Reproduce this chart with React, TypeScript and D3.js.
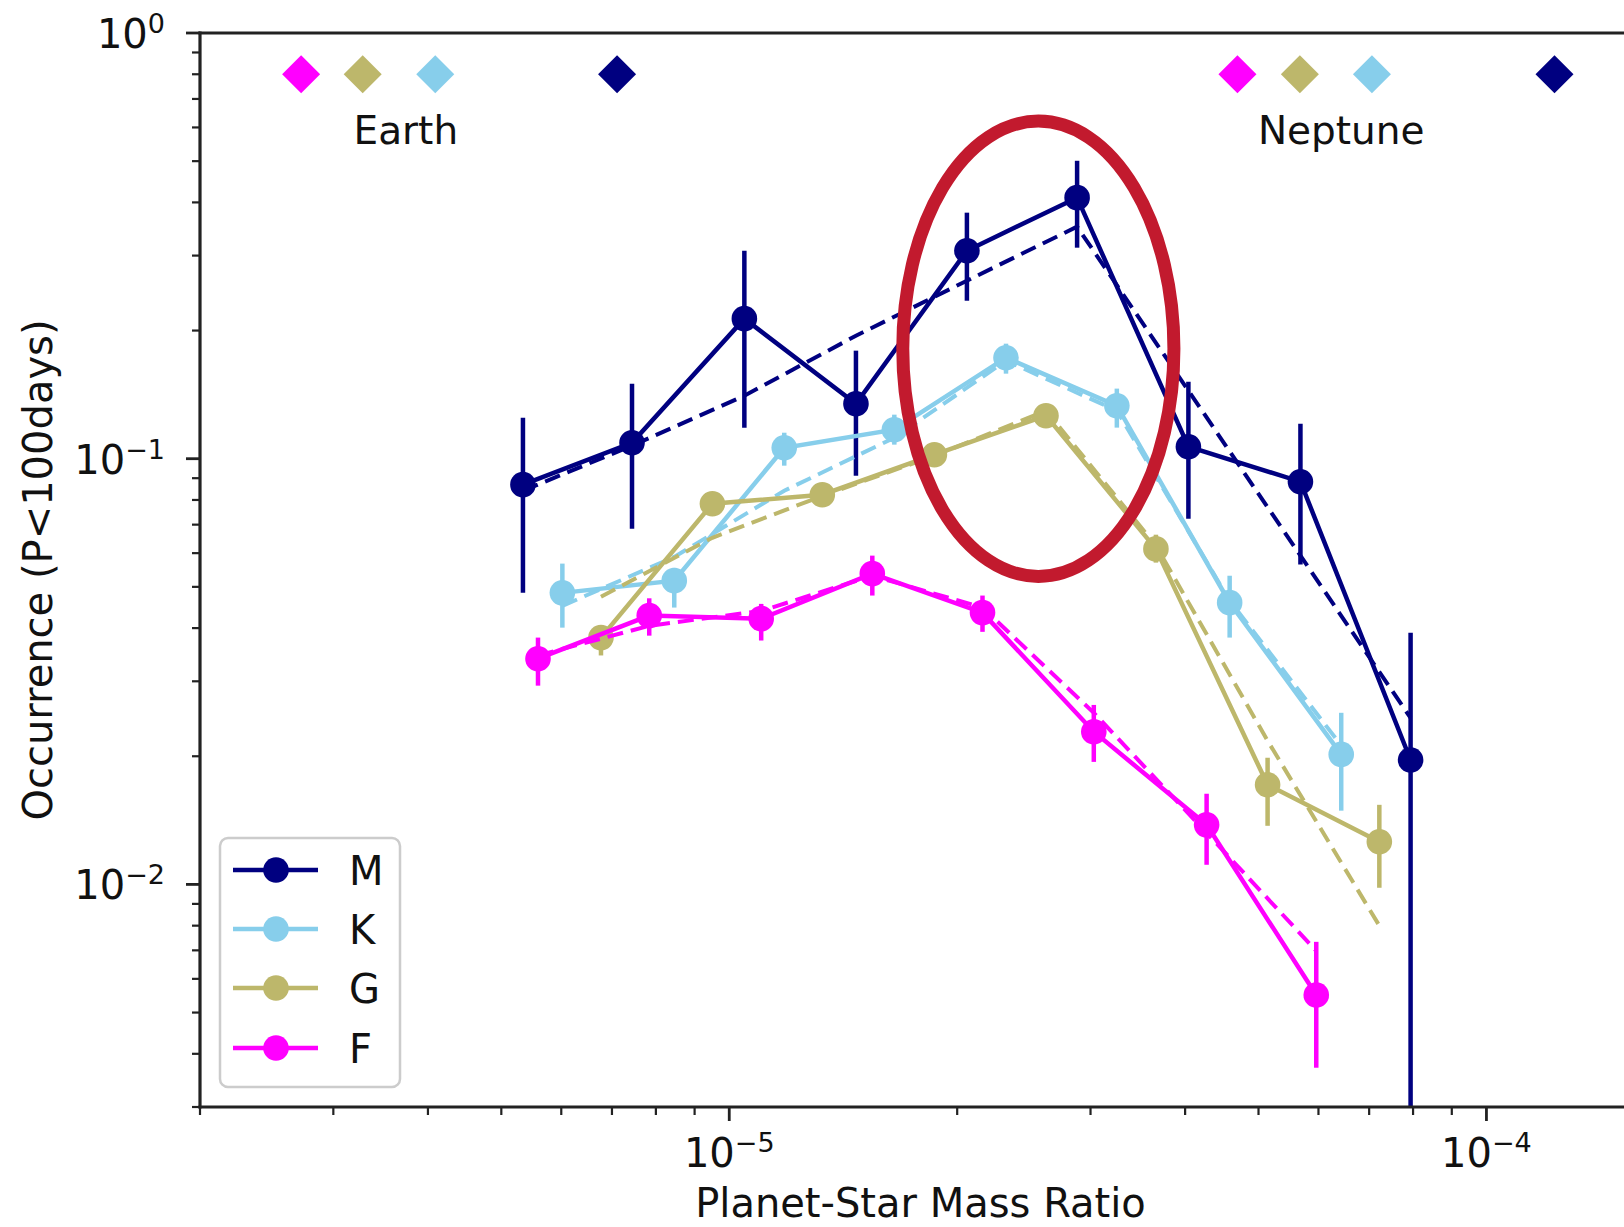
import React from 'react';
import * as d3 from 'd3';

// ---------- data ----------
const X_DOMAIN = [2e-6, 1.6e-4];
const Y_DOMAIN = [0.003, 1];

const M_X = [5.34e-6, 7.44e-6, 1.047e-5, 1.47e-5, 2.06e-5, 2.88e-5, 4.04e-5, 5.68e-5, 7.94e-5];
const M_Y = [0.0869, 0.109, 0.2133, 0.1346, 0.308, 0.4104, 0.1067, 0.0883, 0.0196];
const M_LO = [0.0484, 0.0685, 0.1183, 0.0912, 0.235, 0.3131, 0.0723, 0.0564, 0.0001];
const M_HI = [0.1248, 0.15, 0.308, 0.1794, 0.3784, 0.501, 0.1517, 0.1208, 0.039];
const M_MODEL = [0.0841, 0.1073, 0.1406, 0.1945, 0.2619, 0.3508, 0.1445, 0.0592, 0.0246];

const K_X = [6.02e-6, 8.46e-6, 1.182e-5, 1.652e-5, 2.32e-5, 3.25e-5, 4.58e-5, 6.43e-5];
const K_Y = [0.0484, 0.0517, 0.1061, 0.117, 0.1727, 0.1332, 0.0459, 0.0202];
const K_LO = [0.0401, 0.0447, 0.0963, 0.1079, 0.1584, 0.1183, 0.038, 0.0149];
const K_HI = [0.0567, 0.0554, 0.1151, 0.1269, 0.1863, 0.1461, 0.0531, 0.0253];
const K_MODEL = [0.0451, 0.0588, 0.0841, 0.112, 0.1699, 0.1297, 0.0464, 0.0212];

const G_X = [6.77e-6, 9.5e-6, 1.327e-5, 1.866e-5, 2.62e-5, 3.66e-5, 5.14e-5, 7.22e-5];
const G_Y = [0.038, 0.0784, 0.0823, 0.1022, 0.1262, 0.0614, 0.01714, 0.0126];
const G_LO = [0.0345, 0.0743, 0.078, 0.0971, 0.12, 0.057, 0.01373, 0.00982];
const G_HI = [0.0401, 0.0827, 0.0868, 0.1076, 0.1326, 0.0663, 0.01984, 0.01538];
const G_MODEL = [0.0474, 0.0652, 0.0818, 0.1016, 0.1297, 0.0625, 0.02175, 0.008];

const F_X = [5.59e-6, 7.84e-6, 1.102e-5, 1.545e-5, 2.16e-5, 3.03e-5, 4.27e-5, 5.96e-5];
const F_Y = [0.0339, 0.0428, 0.0421, 0.0537, 0.0435, 0.02284, 0.0138, 0.0055];
const F_LO = [0.0293, 0.0384, 0.0374, 0.0477, 0.0392, 0.0194, 0.01112, 0.00371];
const F_HI = [0.038, 0.047, 0.0456, 0.0592, 0.0477, 0.0264, 0.01633, 0.00733];
const F_MODEL = [0.0345, 0.0405, 0.0439, 0.0531, 0.0447, 0.0253, 0.01322, 0.00698];

const SERIES_NAMES = ['M', 'K', 'G', 'F'];
const SERIES_COLORS = ['#000080', '#87CEEB', '#BDB76B', '#FF00FF'];

// reference-planet markers (order F, G, K, M)
const MARKER_COLORS = ['#FF00FF', '#BDB76B', '#87CEEB', '#000080'];
const EARTH_X = [2.72e-6, 3.28e-6, 4.09e-6, 7.11e-6];
const NEPTUNE_X = [4.69e-5, 5.67e-5, 7.06e-5, 1.23e-4];
const MARKER_Y = 0.8;
const PLANET_LABELS = ['Earth', 'Neptune'];
const PLANET_LABEL_X = [3.74e-6, 6.43e-5];
const PLANET_LABEL_Y = 0.55;

const Y_MAJOR = [1, 0.1, 0.01];
const Y_MAJOR_EXP = ['0', '−1', '−2'];
const X_MAJOR = [1e-5, 1e-4];
const X_MAJOR_EXP = ['−5', '−4'];

// highlight ellipse bounds (data coords)
const ANNOT_X = [1.695e-5, 3.866e-5];
const ANNOT_Y = [0.0529, 0.621];

const FONT = 'DejaVu Sans, Verdana, sans-serif';

export default function App() {
  const L = 200, R = 1641, T = 33, B = 1107;
  const x = d3.scaleLog().domain(X_DOMAIN).range([L, R]);
  const y = d3.scaleLog().domain(Y_DOMAIN).range([B, T]);

  const series = [
    { name: 'M', xs: M_X, ys: M_Y, lo: M_LO, hi: M_HI, model: M_MODEL },
    { name: 'K', xs: K_X, ys: K_Y, lo: K_LO, hi: K_HI, model: K_MODEL },
    { name: 'G', xs: G_X, ys: G_Y, lo: G_LO, hi: G_HI, model: G_MODEL },
    { name: 'F', xs: F_X, ys: F_Y, lo: F_LO, hi: F_HI, model: F_MODEL },
  ];

  const line = d3
    .line<[number, number]>()
    .x((d) => x(d[0]))
    .y((d) => y(d[1]));

  const isPow10 = (v: number) => Math.abs(Math.log10(v) - Math.round(Math.log10(v))) < 1e-9;
  const yMinor = y.ticks().filter((v) => !isPow10(v));
  const xMinor = x.ticks().filter((v) => !isPow10(v));

  const ex0 = x(ANNOT_X[0]), ex1 = x(ANNOT_X[1]);
  const ey0 = y(ANNOT_Y[1]), ey1 = y(ANNOT_Y[0]);

  const dia = 19;
  const diamond = (cx: number, cy: number) =>
    `M${cx},${cy - dia} L${cx + dia},${cy} L${cx},${cy + dia} L${cx - dia},${cy} Z`;

  const legendRows = [870, 929, 988, 1048];

  return (
    <svg
      width={1624}
      height={1227}
      style={{ position: 'absolute', left: 0, top: 0, background: '#fff' }}
      fontFamily={FONT}
    >
      <rect x={0} y={0} width={1624} height={1227} fill="#fff" />
      <defs>
        <clipPath id="plotclip">
          <rect x={L} y={T} width={R - L} height={B - T} />
        </clipPath>
      </defs>

      {/* data */}
      <g clipPath="url(#plotclip)">
        {series.map((s, si) => {
          const c = SERIES_COLORS[si];
          const pts = s.xs.map((xv, i) => [xv, s.ys[i]] as [number, number]);
          const mpts = s.xs.map((xv, i) => [xv, s.model[i]] as [number, number]);
          return (
            <g key={s.name}>
              <path
                d={line(mpts) || ''}
                fill="none"
                stroke={c}
                strokeWidth={4}
                strokeDasharray="16,8"
              />
              {s.xs.map((xv, i) => (
                <line
                  key={'e' + i}
                  x1={x(xv)}
                  x2={x(xv)}
                  y1={y(Math.max(s.lo[i], 1e-4))}
                  y2={y(s.hi[i])}
                  stroke={c}
                  strokeWidth={4.5}
                />
              ))}
              <path d={line(pts) || ''} fill="none" stroke={c} strokeWidth={4.5} />
              {s.xs.map((xv, i) => (
                <circle key={'c' + i} cx={x(xv)} cy={y(s.ys[i])} r={12.8} fill={c} />
              ))}
            </g>
          );
        })}

        {/* reference markers */}
        {EARTH_X.map((xv, i) => (
          <path key={'ea' + i} d={diamond(x(xv), y(MARKER_Y))} fill={MARKER_COLORS[i]} />
        ))}
        {NEPTUNE_X.map((xv, i) => (
          <path key={'ne' + i} d={diamond(x(xv), y(MARKER_Y))} fill={MARKER_COLORS[i]} />
        ))}
      </g>

      {PLANET_LABELS.map((t, i) => (
        <text
          key={t}
          x={x(PLANET_LABEL_X[i])}
          y={y(PLANET_LABEL_Y)}
          fontSize={39}
          textAnchor="middle"
          fill="#111"
        >
          {t}
        </text>
      ))}

      {/* highlight ellipse */}
      <ellipse
        cx={(ex0 + ex1) / 2}
        cy={(ey0 + ey1) / 2}
        rx={(ex1 - ex0) / 2}
        ry={(ey1 - ey0) / 2}
        fill="none"
        stroke="#C21A2E"
        strokeWidth={13}
      />

      {/* spines */}
      <g stroke="#222" strokeWidth={3.2} fill="none">
        <line x1={L} x2={L} y1={T - 1.5} y2={B + 1.5} />
        <line x1={L - 1.5} x2={R} y1={B} y2={B} />
        <line x1={L - 1.5} x2={R} y1={T} y2={T} />
        <line x1={R} x2={R} y1={T} y2={B} />
      </g>

      {/* ticks */}
      <g stroke="#222">
        {Y_MAJOR.map((v) => (
          <line key={'ym' + v} x1={L - 14} x2={L} y1={y(v)} y2={y(v)} strokeWidth={2.8} />
        ))}
        {yMinor.map((v) => (
          <line key={'yn' + v} x1={L - 8} x2={L} y1={y(v)} y2={y(v)} strokeWidth={2.2} />
        ))}
        {X_MAJOR.map((v) => (
          <line key={'xm' + v} x1={x(v)} x2={x(v)} y1={B} y2={B + 14} strokeWidth={2.8} />
        ))}
        {xMinor.map((v) => (
          <line key={'xn' + v} x1={x(v)} x2={x(v)} y1={B} y2={B + 8} strokeWidth={2.2} />
        ))}
      </g>

      {Y_MAJOR.map((v, i) => (
        <text key={'yl' + v} x={165} y={y(v) + 15} fontSize={40} textAnchor="end" fill="#111">
          10
          <tspan dy={-15} fontSize={27}>
            {Y_MAJOR_EXP[i]}
          </tspan>
        </text>
      ))}
      {X_MAJOR.map((v, i) => (
        <text key={'xl' + v} x={x(v)} y={1167} fontSize={40} textAnchor="middle" fill="#111">
          10
          <tspan dy={-15} fontSize={27}>
            {X_MAJOR_EXP[i]}
          </tspan>
        </text>
      ))}

      <text x={(L + R) / 2} y={1217} fontSize={40} textAnchor="middle" fill="#111">
        Planet-Star Mass Ratio
      </text>
      <text
        transform={`translate(52, ${(T + B) / 2}) rotate(-90)`}
        fontSize={40}
        textAnchor="middle"
        fill="#111"
      >
        Occurrence (P&lt;100days)
      </text>

      {/* legend */}
      <rect x={220} y={838} width={180} height={249} rx={8} fill="#fff" fillOpacity={0.85} stroke="#ccc" strokeWidth={2.5} />
      {SERIES_NAMES.map((n, i) => (
        <g key={'lg' + n}>
          <line x1={233} x2={318} y1={legendRows[i]} y2={legendRows[i]} stroke={SERIES_COLORS[i]} strokeWidth={4.5} />
          <circle cx={276} cy={legendRows[i]} r={12.8} fill={SERIES_COLORS[i]} />
          <text x={349} y={legendRows[i] + 15} fontSize={40} fill="#111">
            {n}
          </text>
        </g>
      ))}
    </svg>
  );
}
